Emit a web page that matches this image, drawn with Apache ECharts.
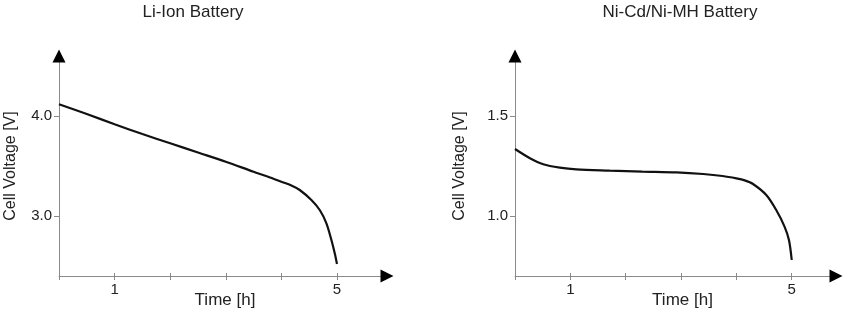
<!DOCTYPE html>
<html>
<head>
<meta charset="utf-8">
<script src="https://cdn.jsdelivr.net/npm/echarts@6/dist/echarts.min.js"></script>
<style>
html,body{margin:0;padding:0;background:#fff;}
#c{width:850px;height:311px;}
</style>
</head>
<body>
<div id="c"></div>
<script>
// ---- data ----
const liTime = [0, 0.5, 1, 1.5, 2, 2.5, 3, 3.5, 3.75, 4, 4.18, 4.33, 4.54, 4.69, 4.81, 4.9, 4.96, 5.0];
const liVolt = [4.117, 4.02, 3.917, 3.82, 3.727, 3.635, 3.543, 3.443, 3.395, 3.343, 3.305, 3.26, 3.16, 3.06, 2.927, 2.76, 2.627, 2.52];
const niTime = [0, 0.27, 0.51, 0.81, 1.11, 1.71, 2.3, 2.92, 3.4, 3.75, 4.0, 4.15, 4.3, 4.54, 4.72, 4.87, 4.95, 5.0];
const niVolt = [1.335, 1.289, 1.259, 1.242, 1.233, 1.227, 1.222, 1.218, 1.21, 1.2, 1.188, 1.178, 1.16, 1.105, 1.03, 0.947, 0.88, 0.78];
const timeTicks = [0, 1, 2, 3, 4, 5];
const timeLabels = [1, 5];
const liVoltTicks = [3.0, 4.0];
const niVoltTicks = [1.0, 1.5];
const titles = ['Li-Ion Battery', 'Ni-Cd/Ni-MH Battery'];

const FONT = 'Liberation Sans, Arial, Helvetica, sans-serif';
const AXIS_GRAY = '#8a8a8a';
const TXT = '#222';

function pairs(xs, ys) { return xs.map((x, i) => [x, ys[i]]); }

function mainX(grid, max, namePad) {
  return {
    type: 'value', gridIndex: grid, min: 0, max: max, position: 'bottom',
    name: 'Time [h]', nameLocation: 'middle', nameGap: 16, nameMoveOverlap: false,
    nameTextStyle: { fontFamily: FONT, fontSize: 17, color: TXT, padding: namePad },
    axisLine: { show: true, onZero: false, lineStyle: { color: AXIS_GRAY, width: 1 } },
    axisTick: { show: true, length: 4, customValues: timeTicks, lineStyle: { color: AXIS_GRAY } },
    axisLabel: { show: true, customValues: timeLabels, margin: 6, fontFamily: FONT, fontSize: 15, color: TXT },
    splitLine: { show: false }
  };
}
function arrowX(grid, max) {
  return {
    type: 'value', gridIndex: grid, min: 0, max: max, position: 'bottom',
    axisLine: { show: true, onZero: false, symbol: ['none', 'triangle'], symbolSize: [13, 13],
      lineStyle: { color: '#000', width: 0 } },
    axisTick: { show: true, inside: true, length: 3, customValues: timeTicks, lineStyle: { color: AXIS_GRAY, width: 1 } },
    axisLabel: { show: false },
    splitLine: { show: false }
  };
}
function mainY(grid, min, max, ticks, gap) {
  return {
    type: 'value', gridIndex: grid, min: min, max: max, position: 'left',
    name: 'Cell Voltage [V]', nameLocation: 'middle', nameGap: gap, nameMoveOverlap: false,
    nameTextStyle: { fontFamily: FONT, fontSize: 16, color: TXT },
    axisLine: { show: true, onZero: false, lineStyle: { color: AXIS_GRAY, width: 1 } },
    axisTick: { show: true, length: 5, customValues: ticks, lineStyle: { color: AXIS_GRAY } },
    axisLabel: { show: true, customValues: ticks, margin: 7, fontFamily: FONT, fontSize: 15, color: TXT,
      formatter: v => Number(v).toFixed(1) },
    splitLine: { show: false }
  };
}
function arrowY(grid, min, max) {
  return {
    type: 'value', gridIndex: grid, min: min, max: max, position: 'left',
    axisLine: { show: true, onZero: false, symbol: ['none', 'triangle'], symbolSize: [13, 13],
      lineStyle: { color: '#000', width: 0 } },
    axisTick: { show: false }, axisLabel: { show: false }, splitLine: { show: false }
  };
}

const chart = echarts.init(document.getElementById('c'), null, { renderer: 'canvas' });
chart.setOption({
  animation: false,
  backgroundColor: '#fff',
  title: [
    { text: titles[0], left: 193, top: 4, textAlign: 'center', padding: 0,
      textStyle: { fontFamily: FONT, fontSize: 17, fontWeight: 'normal', color: TXT } },
    { text: titles[1], left: 680, top: 4, textAlign: 'center', padding: 0,
      textStyle: { fontFamily: FONT, fontSize: 17, fontWeight: 'normal', color: TXT } }
  ],
  grid: [
    { left: 59, top: 56, width: 328, height: 220, containLabel: false, outerBoundsMode: 'none' },
    { left: 515, top: 56, width: 321, height: 220, containLabel: false, outerBoundsMode: 'none' }
  ],
  xAxis: [mainX(0, 5.9, [0, 0, 0, 4]), arrowX(0, 5.9), mainX(1, 5.8, [0, 0, 0, 14]), arrowX(1, 5.8)],
  yAxis: [mainY(0, 2.4, 4.6, liVoltTicks, 40), arrowY(0, 2.4, 4.6), mainY(1, 0.7, 1.8, niVoltTicks, 47), arrowY(1, 0.7, 1.8)],
  series: [
    { type: 'line', xAxisIndex: 0, yAxisIndex: 0, data: pairs(liTime, liVolt), smooth: 0.3,
      showSymbol: false, lineStyle: { color: '#111', width: 2.2 } },
    { type: 'line', xAxisIndex: 2, yAxisIndex: 2, data: pairs(niTime, niVolt), smooth: 0.3,
      showSymbol: false, lineStyle: { color: '#111', width: 2.2 } }
  ]
});
</script>
</body>
</html>
